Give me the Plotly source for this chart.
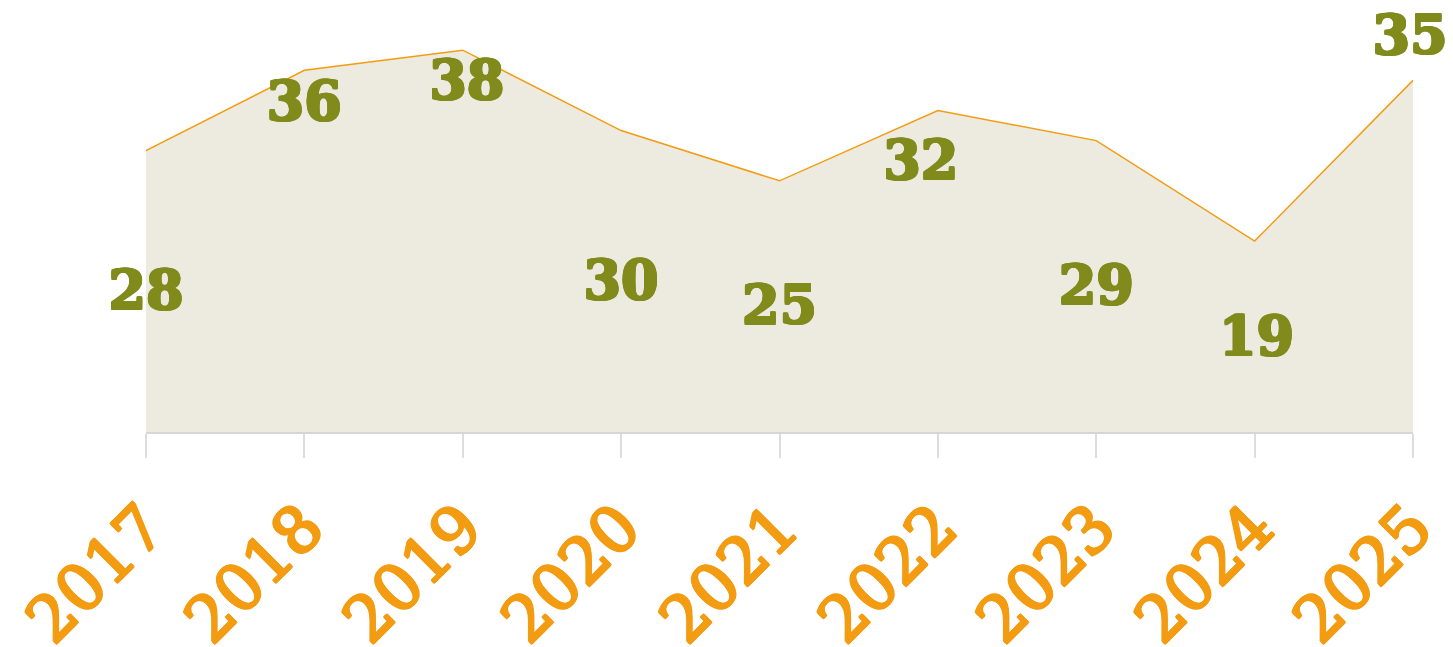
import plotly.graph_objects as go

years = ["2017", "2018", "2019", "2020", "2021", "2022", "2023", "2024", "2025"]
values = [28, 36, 38, 30, 25, 32, 29, 19, 35]

# pixel offsets of the value labels relative to their points (layout only)
label_dx = [0, 0, 4, 0, 0, -17, 0, 2, -3]
label_dy = [-145, -36, -35, -155, -130, -55, -150, -100, 40]

Y_MAX = 42.2
PLOT_H = 424
PLOT_W = 1267
px_per_unit = PLOT_H / Y_MAX
px_per_cat = PLOT_W / (len(years) - 1)
xpos = list(range(len(years)))

OLIVE = "#808b1c"
ORANGE = "#f39c12"


def thicken(color, r=1):
    offs = [(r, 0), (-r, 0), (0, r), (0, -r), (r, r), (-r, -r), (r, -r), (-r, r)]
    return ", ".join(f"{dx}px {dy}px 0px {color}" for dx, dy in offs)


fig = go.Figure()
fig.add_trace(go.Scatter(
    x=xpos, y=values, mode="lines", fill="tozeroy",
    fillcolor="#edeadf", line=dict(color=ORANGE, width=1.5),
    text=years, hovertemplate="%{text}: %{y}<extra></extra>", showlegend=False,
))

fig.add_trace(go.Scatter(
    x=[i + dx / px_per_cat for i, dx in zip(xpos, label_dx)],
    y=[v + dy / px_per_unit for v, dy in zip(values, label_dy)],
    mode="text", text=["<b>" + str(v) + "</b>" for v in values],
    textposition="middle center", cliponaxis=False,
    textfont=dict(family="DejaVu Serif", size=54, color=OLIVE, shadow=thicken(OLIVE)),
    hoverinfo="skip", showlegend=False,
))

fig.update_layout(
    width=1453, height=647,
    margin=dict(l=138, r=48, t=0, b=223),
    paper_bgcolor="white", plot_bgcolor="white",
    xaxis=dict(
        type="linear", range=[0, 8], showgrid=False, zeroline=False,
        tickmode="array", tickvals=xpos, ticktext=years, automargin=False,
        ticklabeloverflow="allow",
        showline=True, linecolor="#d6d6d6", linewidth=2,
        ticks="outside", ticklen=24, tickwidth=2, tickcolor="#dddddd",
        tickangle=-45, ticklabelstandoff=6,
        tickfont=dict(family="DejaVu Serif", size=64, color=ORANGE,
                      shadow=thicken(ORANGE, 1)),
    ),
    yaxis=dict(range=[0, Y_MAX], showticklabels=False, showgrid=False,
               zeroline=False, showline=False, ticks="", automargin=False),
)

fig.write_html("out.html")
